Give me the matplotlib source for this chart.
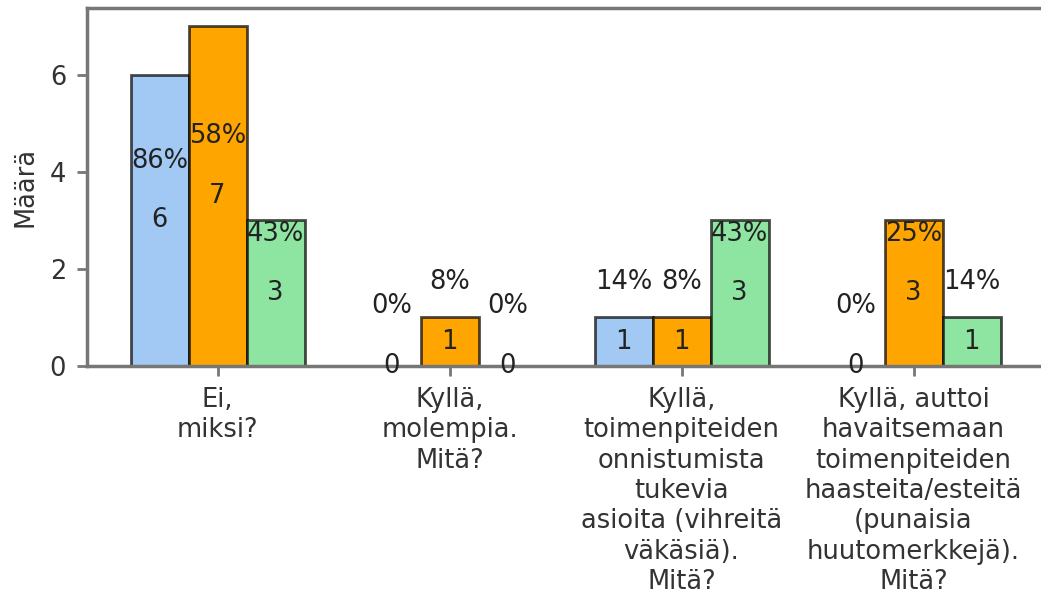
import matplotlib.pyplot as plt
import numpy as np

# data
categories = ["Ei,\nmiksi?",
              "Kyllä,\nmolempia.\nMitä?",
              "Kyllä,\ntoimenpiteiden\nonnistumista\ntukevia\nasioita (vihreitä\nväkäsiä).\nMitä?",
              "Kyllä, auttoi\nhavaitsemaan\ntoimenpiteiden\nhaasteita/esteitä\n(punaisia\nhuutomerkkejä).\nMitä?"]
blue_vals = [6, 0, 1, 0]
orange_vals = [7, 1, 1, 3]
green_vals = [3, 0, 3, 1]
blue_pct = ["86%", "0%", "14%", "0%"]
orange_pct = ["58%", "8%", "8%", "25%"]
green_pct = ["43%", "0%", "43%", "14%"]

fs = 18.5
plt.rcParams['font.size'] = fs

fig = plt.figure(figsize=(10.41, 5.98), dpi=100)
ax = fig.add_axes([87/1041, 1 - 366/598, (1044 - 87)/1041, (366 - 8)/598])

x = np.arange(len(categories))
w = 0.25
series = [(blue_vals, blue_pct, '#a1c9f4', -w),
          (orange_vals, orange_pct, '#ffa500', 0),
          (green_vals, green_pct, '#8de5a1', w)]

for vals, pcts, col, off in series:
    bars = ax.bar(x + off, vals, w, color=col, edgecolor=(0, 0, 0, 0.7), linewidth=2)
    for b, v, p in zip(bars, vals, pcts):
        cx = b.get_x() + b.get_width() / 2
        ax.annotate(str(v), (cx, v / 2), ha='center', va='center', color='#222222')
        ax.annotate(p, (cx, v / 2), xytext=(0, 43), textcoords='offset points',
                    ha='center', va='center', color='#222222')

ax.set_xticks(x)
ax.set_xticklabels(categories, linespacing=1.22)
ax.set_yticks([0, 2, 4, 6])
ax.set_ylabel("Määrä", color='#333333', labelpad=8)
ax.set_ylim(0, 7.38)

for s in ax.spines.values():
    s.set_color('#777777')
    s.set_linewidth(2.5)
ax.tick_params(colors='#777777', labelcolor='#333333', length=7, width=2)
ax.tick_params(axis='x', pad=8)
ax.tick_params(axis='y', pad=8)

fig.savefig('out.png', dpi=100)
